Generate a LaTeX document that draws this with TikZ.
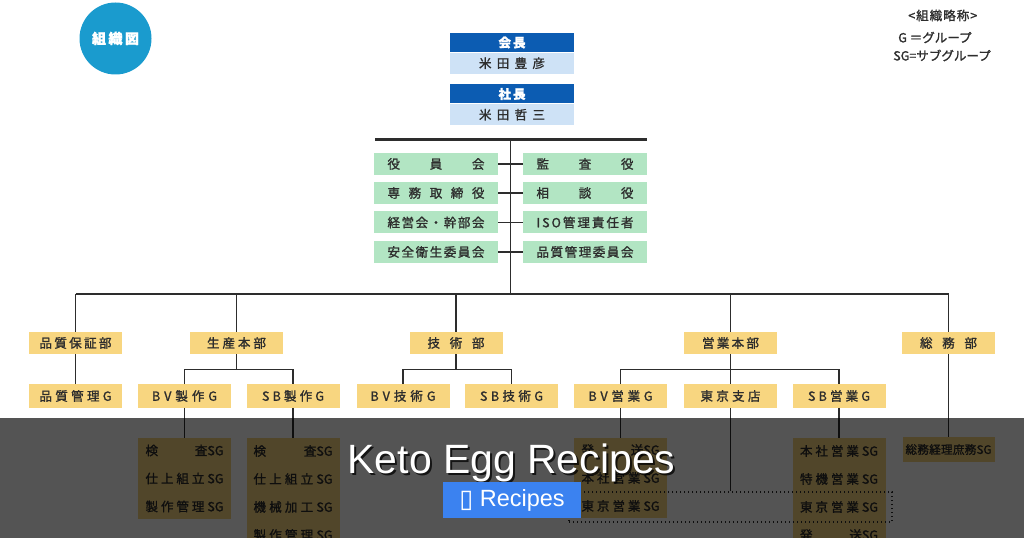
\documentclass[tikz,border=0pt]{standalone}
\usepackage{fontspec}
\newfontfamily\jpfont[FakeBold=1.4]{Noto Sans CJK JP}
\newfontfamily\webfont{Liberation Sans}
\newfontfamily\glyphfont{DejaVu Sans}
\definecolor{badgeblue}{RGB}{26,155,206}
\definecolor{headblue}{RGB}{12,92,178}
\definecolor{nameblue}{RGB}{206,226,246}
\definecolor{boardgreen}{RGB}{178,229,195}
\definecolor{deptyellow}{RGB}{248,214,128}
\definecolor{inkgray}{RGB}{45,45,45}
\definecolor{linegray}{RGB}{45,45,45}
\definecolor{btnblue}{RGB}{59,130,240}
\newdimen\pxunit \pxunit=0.75pt
% spread the letters of a label over a width given in px
\def\gobbleone#1{}
\def\spreadend{\spreadend}
\def\spreadaux#1{#1\futurelet\spnext\spreadcheck}
\def\spreadcheck{\ifx\spnext\spreadend\expandafter\gobbleone\else\hfill\expandafter\spreadaux\fi}
\newcommand{\spread}[2]{\makebox[#1\pxunit][s]{\spreadaux#2\spreadend}}

\begin{document}
\begin{tikzpicture}[x=0.75pt,y=0.75pt,yscale=-1,xscale=1,
  every node/.style={inner sep=0pt,text=inkgray,font=\jpfont\fontsize{9.4}{11}\selectfont},
  headbox/.style={fill=headblue,minimum width=93pt,minimum height=14.25pt,text=white,font=\jpfont\bfseries\fontsize{9.4}{11}\selectfont},
  namebox/.style={fill=nameblue,minimum width=93pt,minimum height=16pt},
  boardbox/.style={fill=boardgreen,minimum width=93pt,minimum height=16.5pt},
  deptbox/.style={fill=deptyellow,minimum width=69.75pt,minimum height=16.5pt},
  groupbox/.style={fill=deptyellow,minimum width=69.75pt,minimum height=17.5pt},
  subbox/.style={fill=deptyellow,minimum width=69.75pt,align=center,font=\jpfont\fontsize{9.4}{21}\selectfont},
  link/.style={draw=linegray,line width=1.1pt},
]
\clip (0,0) rectangle (1024,538);

%Shape: Circle
\node[circle,fill=badgeblue,minimum size=54pt,text=white,font=\jpfont\bfseries\fontsize{10.5}{12}\selectfont] (badge) at (115.5,38.5) {\spread{47}{組織図}};

% Text Node
\node[anchor=west] (legtitle) at (908,15.5) {\spread{69}{<組織略称>}};
\node[anchor=west] (leggroup) at (898,37.5) {G ＝グループ};
\node[anchor=west] (legsub) at (893,55.5) {SG=サブグループ};

%Shape: Rectangle
\node[headbox] (chairhead) at (512,42.5) {\spread{27}{会長}};
\node[namebox,anchor=north] (chairname) at (chairhead.south) {\spread{66}{米田豊彦}};
\node[headbox] (preshead) at (512,94) {\spread{27}{社長}};
\node[namebox,anchor=north] (presname) at (preshead.south) {\spread{66}{米田哲三}};

%Straight Lines
\coordinate (barL) at (375,139.5);
\coordinate (barR) at (647,139.5);
\coordinate (barC) at (510.5,139.5);
\coordinate (trunkC) at (510.5,294);
\coordinate (trunkL) at (75.5,294);
\coordinate (trunkR) at (948.5,294);
\draw[link,line width=1.9pt] (barL) -- (barR);
\draw[link] (barC) -- (trunkC);
\draw[link] (trunkL) -- (trunkR);

%Shape: Rectangle
\node[boardbox] (yakuin) at (436,164) {\spread{97}{役員会}};
\node[boardbox] (senmu) at (436,193) {\spread{97}{専務取締役}};
\node[boardbox] (keiei) at (436,222.5) {\spread{97}{経営会・幹部会}};
\node[boardbox] (anzen) at (436,252) {\spread{97}{安全衛生委員会}};
\node[boardbox] (kansa) at (585,164) {\spread{97}{監査役}};
\node[boardbox] (sodan) at (585,193) {\spread{97}{相談役}};
\node[boardbox] (iso) at (585,222.5) {\spread{97}{ISO管理責任者}};
\node[boardbox] (hinkaniin) at (585,252) {\spread{97}{品質管理委員会}};
\draw[link] (yakuin) -- (kansa);
\draw[link] (senmu) -- (sodan);
\draw[link] (keiei) -- (iso);
\draw[link] (anzen) -- (hinkaniin);

%Shape: Rectangle
\node[deptbox] (hinsho) at (75.5,343) {\spread{72}{品質保証部}};
\node[deptbox] (seisan) at (236.5,343) {\spread{59}{生産本部}};
\node[deptbox] (gijutsu) at (456,343) {\spread{57}{技術部}};
\node[deptbox] (eigyo) at (730.5,343) {\spread{57}{営業本部}};
\node[deptbox] (somu) at (948.5,343) {\spread{57}{総務部}};
\foreach \dept in {hinsho,seisan,gijutsu,eigyo,somu}
  \draw[link] (\dept.north |- trunkL) -- (\dept.north);

%Shape: Rectangle
\node[groupbox] (hinkan) at (75.5,396) {\spread{72}{品質管理G}};
\node[groupbox] (bvsei) at (184.5,396) {\spread{65}{BV製作G}};
\node[groupbox] (sbsei) at (293,396) {\spread{62}{SB製作G}};
\node[groupbox] (bvgi) at (403,396) {\spread{65}{BV技術G}};
\node[groupbox] (sbgi) at (511.5,396) {\spread{63}{SB技術G}};
\node[groupbox] (bveig) at (620.5,396) {\spread{64}{BV営業G}};
\node[groupbox] (tokyo) at (730.5,396) {\spread{60}{東京支店}};
\node[groupbox] (sbeig) at (839,396) {\spread{62}{SB営業G}};

%Straight Lines
\draw[link] (hinsho) -- (hinkan);
\draw[link] (seisan.south) -- ++(0,15) coordinate (seisanJ);
\draw[link] (bvsei.north) |- (seisanJ) -| (sbsei.north);
\draw[link] (gijutsu.south) -- ++(0,15) coordinate (gijutsuJ);
\draw[link] (bvgi.north) |- (gijutsuJ) -| (sbgi.north);
\draw[link] (eigyo) -- (tokyo);
\path (eigyo.south) -- ++(0,15) coordinate (eigyoJ);
\draw[link] (bveig.north) |- (eigyoJ) -| (sbeig.north);

%Shape: Rectangle
\node[subbox,minimum height=60.75pt] (bvseiSG) at (184.5,478.5) {\spread{78}{検{査SG}}\\\spread{78}{仕上組立{SG}}\\\spread{78}{製作管理{SG}}};
\node[subbox,minimum height=82.5pt] (sbseiSG) at (293,493) {\spread{79}{検{査SG}}\\\spread{79}{仕上組立{SG}}\\\spread{79}{機械加工{SG}}\\\spread{79}{製作管理{SG}}};
\node[subbox,minimum height=60pt] (bveigSG) at (620.5,478) {\spread{78}{発{送SG}}\\\spread{78}{本社営業{SG}}\\\spread{78}{東京営業{SG}}};
\node[subbox,minimum height=82.5pt] (sbeigSG) at (839,493) {\spread{78}{本社営業{SG}}\\\spread{78}{特機営業{SG}}\\\spread{78}{東京営業{SG}}\\\spread{78}{発{送SG}}};
\node[deptbox,minimum width=69pt,minimum height=18.75pt,font=\jpfont\fontsize{8.7}{10}\selectfont] (somuSG) at (948.5,449.5) {\spread{86}{総務経理庶務{SG}}};
\node[draw=linegray,dotted,line width=1pt,minimum width=242.25pt,minimum height=22.5pt] (tokyoSG) at (730.5,507) {};

%Straight Lines
\draw[link] (bvsei) -- (bvseiSG);
\draw[link] (sbsei) -- (sbseiSG);
\draw[link] (bveig) -- (bveigSG);
\draw[link] (sbeig) -- (sbeigSG);
\draw[link] (somu) -- (somuSG);
\draw[link] (tokyo) -- (tokyoSG);

%Shape: Rectangle
\fill[black,opacity=0.67] (0,418) rectangle (1024,538);

% Text Node
\node[anchor=base,text=black,opacity=0.75,font=\webfont\fontsize{30.7}{36}\selectfont] (titleshade) at (513.5,475) {Keto Egg Recipes};
\node[anchor=base,text=white,font=\webfont\fontsize{30.7}{36}\selectfont] (title) at (511.5,473) {Keto Egg Recipes};
\node[fill=btnblue,minimum width=103.5pt,minimum height=27pt,text=white,font=\webfont\fontsize{17.6}{20}\selectfont] (btn) at (512,500) {\raisebox{-1pt}{\glyphfont\fontsize{19}{20}\selectfont ▯}\hspace{5pt}Recipes};

\end{tikzpicture}
\end{document}
